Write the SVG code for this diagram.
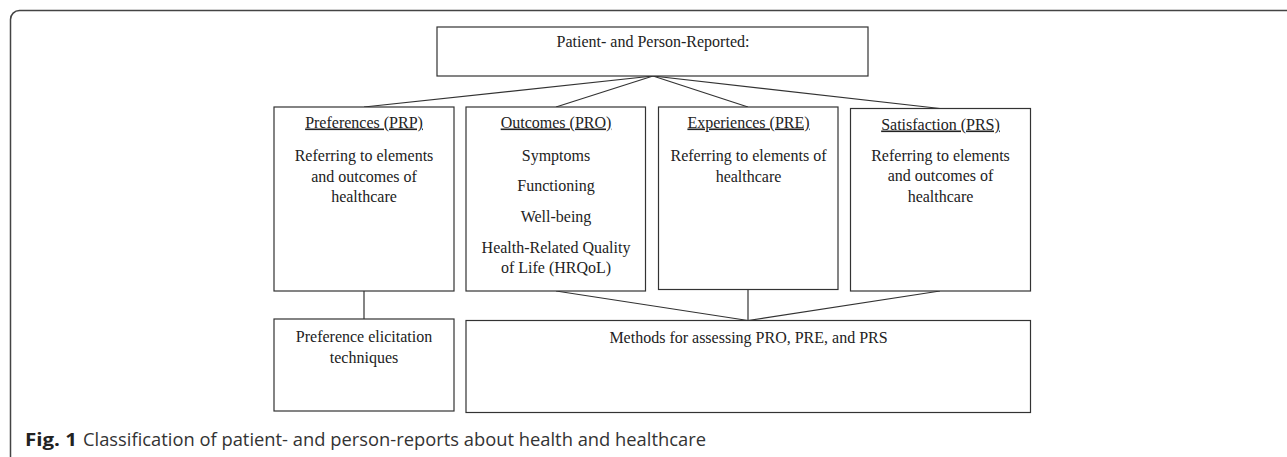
<svg xmlns="http://www.w3.org/2000/svg" width="1287" height="457" viewBox="0 0 1287 457">
  <style>
    .box { fill: #ffffff; stroke: #333333; stroke-width: 1.2; }
    .conn { fill: none; stroke: #333333; stroke-width: 1.2; }
    .frame { fill: none; stroke: #444444; stroke-width: 1.5; }
    .t { font-family: "Liberation Serif", "Times New Roman", serif; font-size: 16px; fill: #222222; text-anchor: middle; }
    .u { text-decoration: underline; }
    .cap { font-family: "Open Sans", "Noto Sans", sans-serif; font-size: 18px; fill: #333333; }
    .capb { font-family: "Open Sans", "Noto Sans", sans-serif; font-size: 18px; font-weight: bold; fill: #222222; }
  </style>

  <rect id="frame" class="frame" x="10.5" y="10.5" width="1300" height="456" rx="9" ry="9"/>

  <g id="connectors">
    <line class="conn" x1="653" y1="76" x2="364" y2="107"/>
    <line class="conn" x1="653" y1="76" x2="556" y2="107"/>
    <line class="conn" x1="653" y1="76" x2="748" y2="107"/>
    <line class="conn" x1="653" y1="76" x2="940" y2="108.5"/>
    <line class="conn" x1="364" y1="291" x2="364" y2="319"/>
    <line class="conn" x1="556" y1="291" x2="748" y2="320.5"/>
    <line class="conn" x1="748" y1="290" x2="748" y2="320.5"/>
    <line class="conn" x1="940" y1="291" x2="748" y2="320.5"/>
  </g>

  <g id="node-top">
    <rect class="box" x="437" y="27" width="431" height="49"/>
    <text class="t" x="653" y="47">Patient- and Person-Reported:</text>
  </g>

  <g id="node-prp">
    <rect class="box" x="274" y="107" width="180" height="184"/>
    <text class="t u" x="364" y="127.5">Preferences (PRP)</text>
    <text class="t" x="364" y="161">Referring to elements</text>
    <text class="t" x="364" y="181.5">and outcomes of</text>
    <text class="t" x="364" y="202">healthcare</text>
  </g>

  <g id="node-pro">
    <rect class="box" x="466" y="107" width="179.5" height="184"/>
    <text class="t u" x="556" y="127.5">Outcomes (PRO)</text>
    <text class="t" x="556" y="160.5">Symptoms</text>
    <text class="t" x="556" y="191">Functioning</text>
    <text class="t" x="556" y="221.5">Well-being</text>
    <text class="t" x="556" y="252.5">Health-Related Quality</text>
    <text class="t" x="556" y="273">of Life (HRQoL)</text>
  </g>

  <g id="node-pre">
    <rect class="box" x="658.5" y="107" width="179.5" height="182.5"/>
    <text class="t u" x="748.5" y="127.5">Experiences (PRE)</text>
    <text class="t" x="748.5" y="161">Referring to elements of</text>
    <text class="t" x="748.5" y="181.5">healthcare</text>
  </g>

  <g id="node-prs">
    <rect class="box" x="850.5" y="108.5" width="180" height="182.5"/>
    <text class="t u" x="940.5" y="129.5">Satisfaction (PRS)</text>
    <text class="t" x="940.5" y="160.5">Referring to elements</text>
    <text class="t" x="940.5" y="181">and outcomes of</text>
    <text class="t" x="940.5" y="201.5">healthcare</text>
  </g>

  <g id="node-elicitation">
    <rect class="box" x="274" y="319" width="180" height="92"/>
    <text class="t" x="364" y="341.5">Preference elicitation</text>
    <text class="t" x="364" y="362.5">techniques</text>
  </g>

  <g id="node-methods">
    <rect class="box" x="466" y="320.5" width="564.5" height="92"/>
    <text class="t" x="748.5" y="342.5">Methods for assessing PRO, PRE, and PRS</text>
  </g>

  <g id="caption">
    <text class="capb" x="25" y="445.5" textLength="52" lengthAdjust="spacingAndGlyphs">Fig. 1</text>
    <text class="cap" x="83" y="445.5" textLength="623" lengthAdjust="spacingAndGlyphs">Classification of patient- and person-reports about health and healthcare</text>
  </g>
</svg>
